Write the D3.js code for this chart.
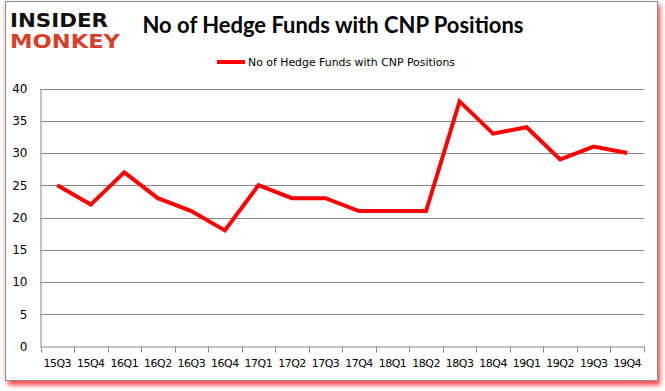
<!DOCTYPE html>
<html><head><meta charset="utf-8">
<script src="https://cdn.jsdelivr.net/npm/d3@7"></script>
<style>body{margin:0;background:#fff}svg{display:block}</style>
</head><body>
<svg id="c" width="665" height="391"></svg>
<script>
const categories = ["15Q3","15Q4","16Q1","16Q2","16Q3","16Q4","17Q1","17Q2","17Q3","17Q4","18Q1","18Q2","18Q3","18Q4","19Q1","19Q2","19Q3","19Q4"];
const values = [25,22,27,23,21,18,25,23,23,21,21,21,38,33,34,29,31,30];
const yTicks = [0,5,10,15,20,25,30,35,40];
const seriesName = "No of Hedge Funds with CNP Positions";
const title = "No of Hedge Funds with CNP Positions";

const svg = d3.select("#c");
const defs = svg.append("defs");
const f = defs.append("filter").attr("id","sh").attr("x","-5%").attr("y","-5%").attr("width","115%").attr("height","115%");
f.append("feGaussianBlur").attr("stdDeviation",2.5);

// frame shadow
svg.append("rect").attr("x",8).attr("y",5).attr("width",652).attr("height",380).attr("fill","#ff2020").attr("filter","url(#sh)").attr("opacity",0.9);
svg.append("rect").attr("x",3).attr("y",3).attr("width",653).attr("height",377).attr("fill","#ffc8c8").attr("filter","url(#sh)").attr("opacity",0.5);
svg.append("rect").attr("x",5.5).attr("y",1.5).attr("width",652).attr("height",379).attr("fill","#fff").attr("stroke","#8a8a8a").attr("stroke-width",1);

const m = {l:40.5, r:644, t:88.5, b:346.5};
const x = d3.scaleBand().domain(categories).range([m.l, m.r]);
const y = d3.scaleLinear().domain([0,40]).range([m.b, m.t]);

// gridlines
svg.append("g").selectAll("line").data(yTicks.filter(d=>d>0)).join("line")
  .attr("x1",m.l).attr("x2",m.r).attr("y1",d=>Math.round(y(d))+0.5).attr("y2",d=>Math.round(y(d))+0.5)
  .attr("stroke","#868686").attr("stroke-width",1);

// y axis
const ya = svg.append("g").attr("transform",`translate(${m.l},0)`)
  .call(d3.axisLeft(y).tickValues(yTicks).tickSize(0).tickPadding(13));
ya.select(".domain").attr("stroke","#868686");
ya.selectAll("text").attr("font-family","'DejaVu Sans', Verdana, sans-serif").attr("font-size",12).attr("fill","#000");

// x axis
const xa = svg.append("g").attr("transform",`translate(0,${m.b})`)
  .call(d3.axisBottom(x).tickSize(0).tickPadding(13));
xa.select(".domain").attr("stroke","#868686");
xa.selectAll("text").attr("font-family","'DejaVu Sans', Verdana, sans-serif").attr("font-size",11).attr("fill","#000").attr("letter-spacing","-0.5");
const edges = categories.map(c=>x(c)).concat([m.r]);
xa.selectAll("line.edge").data(edges).join("line").attr("class","edge")
  .attr("x1",d=>Math.round(d)+0.5).attr("x2",d=>Math.round(d)+0.5).attr("y1",0).attr("y2",6).attr("stroke","#868686");

// line
const line = d3.line().x((d,i)=>x(categories[i])+x.bandwidth()/2).y(d=>y(d));
svg.append("path").datum(values).attr("d",line).attr("fill","none").attr("stroke","#ff0000").attr("stroke-width",4).attr("stroke-linejoin","miter");

// title
svg.append("text").attr("x",333).attr("y",33).attr("text-anchor","middle")
  .attr("font-family","Lato, 'Open Sans', sans-serif").attr("font-weight","bold").attr("font-size",22).attr("fill","#000")
  .attr("textLength",381).attr("lengthAdjust","spacingAndGlyphs")
  .text(title);

// legend
svg.append("line").attr("x1",217).attr("x2",245).attr("y1",62).attr("y2",62).attr("stroke","#ff0000").attr("stroke-width",4);
svg.append("text").attr("x",248).attr("y",66).attr("font-family","'DejaVu Sans', Verdana, sans-serif").attr("font-size",11).attr("fill","#000")
  .attr("textLength",207).attr("lengthAdjust","spacingAndGlyphs").text(seriesName);

// logo
svg.append("text").attr("transform","translate(10,27) scale(1,1.3)").attr("font-family","'DejaVu Sans', sans-serif").attr("font-weight","bold").attr("font-size",15).attr("fill","#111").attr("textLength",98).attr("lengthAdjust","spacingAndGlyphs").text("INSIDER");
svg.append("text").attr("transform","translate(10,47.5) scale(1,1.3)").attr("font-family","'DejaVu Sans', sans-serif").attr("font-weight","bold").attr("font-size",15).attr("fill","#d6402b").attr("textLength",110).attr("lengthAdjust","spacingAndGlyphs").text("MONKEY");
</script>
</body></html>
